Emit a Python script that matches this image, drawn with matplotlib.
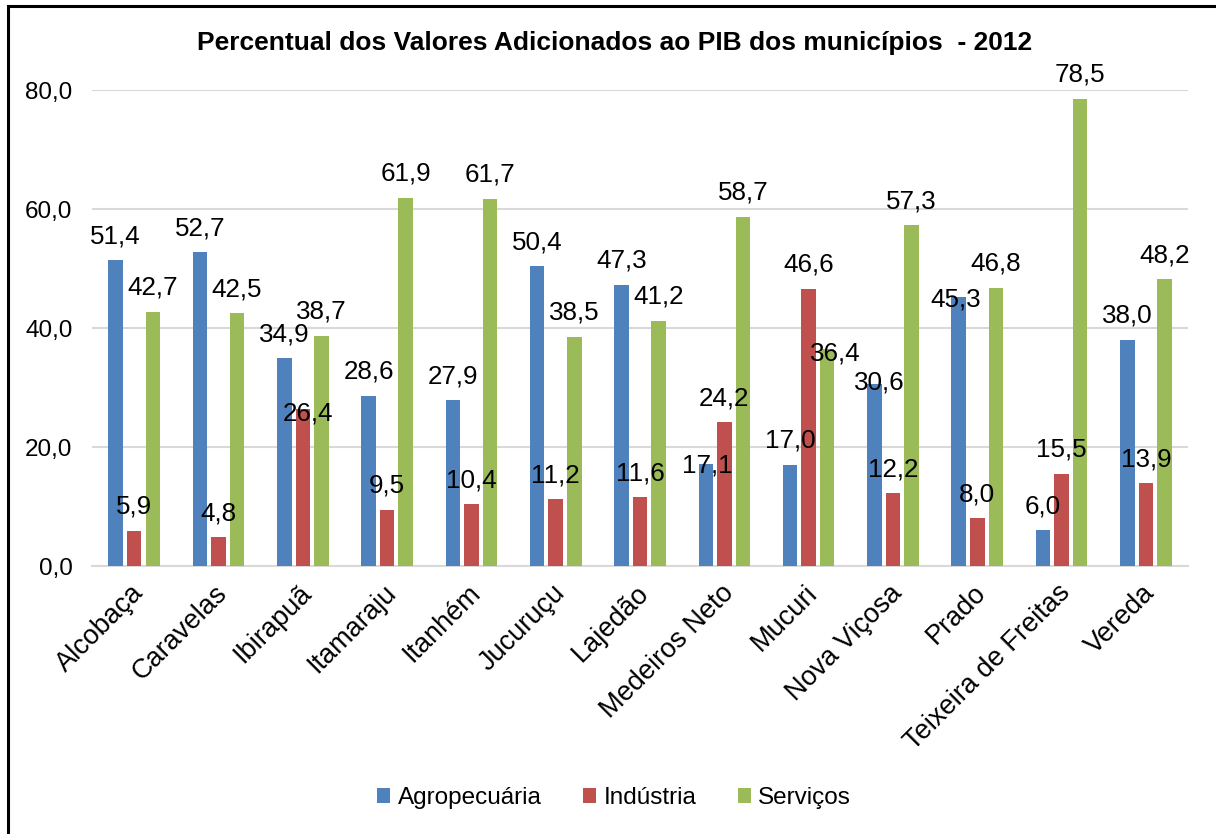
import numpy as np
import matplotlib
matplotlib.use("Agg")
import matplotlib.pyplot as plt
from matplotlib.patches import Rectangle
from matplotlib.transforms import ScaledTranslation

municipios = ["Alcobaça", "Caravelas", "Ibirapuã", "Itamaraju", "Itanhém", "Jucuruçu",
              "Lajedão", "Medeiros Neto", "Mucuri", "Nova Viçosa", "Prado",
              "Teixeira de Freitas", "Vereda"]
agropecuaria = [51.4, 52.7, 34.9, 28.6, 27.9, 50.4, 47.3, 17.1, 17.0, 30.6, 45.3, 6.0, 38.0]
industria = [5.9, 4.8, 26.4, 9.5, 10.4, 11.2, 11.6, 24.2, 46.6, 12.2, 8.0, 15.5, 13.9]
servicos = [42.7, 42.5, 38.7, 61.9, 61.7, 38.5, 41.2, 58.7, 36.4, 57.3, 46.8, 78.5, 48.2]

series = [("Agropecuária", agropecuaria, "#4F81BD"),
          ("Indústria", industria, "#C0504D"),
          ("Serviços", servicos, "#9BBB59")]

# rótulos que o Excel deslocou para evitar sobreposição: (série, município) -> (dx, dy) em pixels
ajuste_rotulos = {(1, 2): (5, -12), (0, 7): (2, -8), (2, 8): (8, -11),
                  (0, 9): (5, -6), (0, 10): (-3, -10)}

plt.rcParams['font.family'] = ['Liberation Sans', 'DejaVu Sans']

fig = plt.figure(figsize=(12.16, 8.34), dpi=100)
ax = fig.add_axes([0.0757, 0.3213, 0.9013, 0.5707])

x = np.arange(len(municipios))
width = 0.172
step = 0.22

for i, (nome, vals, cor) in enumerate(series):
    pos = x + (i - 1) * step
    ax.bar(pos, vals, width, color=cor, label=nome, zorder=3)
    for j, (px, v) in enumerate(zip(pos, vals)):
        dx, dy = ajuste_rotulos.get((i, j), (0, 17))
        ax.annotate(f"{v:.1f}".replace(".", ","), (px, v), xytext=(dx, dy),
                    textcoords="offset pixels", ha="center", va="baseline",
                    fontsize=18.7, zorder=4)

ax.set_xlim(-0.5, len(municipios) - 0.5)
ax.set_ylim(0, 80)
ax.set_yticks([0, 20, 40, 60, 80])
ax.set_yticklabels(["0,0", "20,0", "40,0", "60,0", "80,0"], fontsize=17.5)
ax.set_xticks(x)
ax.set_xticklabels(municipios, rotation=45, ha="right", va="top",
                   rotation_mode="anchor", fontsize=19.5)
ax.tick_params(axis="y", length=0, pad=14)
ax.tick_params(axis="x", length=0, pad=10)
desloc = ScaledTranslation(-4 / 100, 0, fig.dpi_scale_trans)
for lbl in ax.get_xticklabels():
    lbl.set_transform(lbl.get_transform() + desloc)
ax.grid(axis="y", color="#D9D9D9", linewidth=1.5, zorder=0)
for s in ["left", "right", "top"]:
    ax.spines[s].set_visible(False)
ax.spines["bottom"].set_color("#D9D9D9")
ax.spines["bottom"].set_linewidth(1.5)

fig.text(0.505, 0.948, "Percentual dos Valores Adicionados ao PIB dos municípios  - 2012",
         ha="center", va="center", fontsize=19, fontweight="bold")

fig.legend(loc="center", bbox_to_anchor=(0.505, 0.043), ncol=3, frameon=False,
           fontsize=17.5, handlelength=0.55, handleheight=0.55, handletextpad=0.3,
           columnspacing=1.7)

fig.patches.append(Rectangle((8 / 1216, -0.1), 1.2, 1.1 - 6 / 834,
                             transform=fig.transFigure, fill=False,
                             edgecolor="black", linewidth=2.2))

fig.savefig("out.png", dpi=100)
